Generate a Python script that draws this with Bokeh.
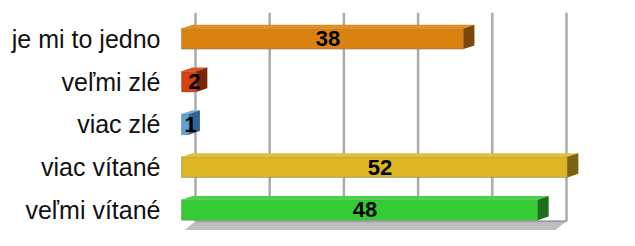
from bokeh.plotting import figure
from bokeh.models import Range1d, FixedTicker, ColumnDataSource
from bokeh.core.properties import value
from bokeh.embed import file_html
from bokeh.resources import INLINE

# ---- data ----
categories = ["je mi to jedno", "veľmi zlé", "viac zlé", "viac vítané", "veľmi vítané"]
counts = [38, 2, 1, 52, 48]
grid_ticks = [0, 10, 20, 30, 40, 50]
front_colors = ["#D9820F", "#D4420F", "#5FA0D6", "#DDB422", "#34CB34"]
top_colors = ["#E08F22", "#DA5222", "#74AEDD", "#E3BE3A", "#48D248"]
side_colors = ["#7A4808", "#7A2508", "#33628F", "#7A6210", "#1C701C"]

# ---- geometry (pixels -> data units) ----
W, H = 619, 230
SY = H / 246.0
LEFT = 168
PX_PER_UNIT = 7.42
PX_PER_ROW = 45.75 * SY
ZERO_PX = 13              # frame x of value 0 (front face)
FIRST_ROW_PX = 41 * SY    # frame y of first row centre
DEPTH_X = 11 / PX_PER_UNIT
DEPTH_Y = 4 * SY / PX_PER_ROW
BACK_X = 14 / PX_PER_UNIT
HALF = 11 * SY / PX_PER_ROW
GRID_TOP = (13 * SY - FIRST_ROW_PX) / PX_PER_ROW
FLOOR = (236 * SY - FIRST_ROW_PX) / PX_PER_ROW
FLOOR_FRONT = (248 * SY - FIRST_ROW_PX) / PX_PER_ROW

frame_w = W - LEFT
x0 = -ZERO_PX / PX_PER_UNIT
p = figure(width=W, height=H, output_backend="svg", toolbar_location=None,
           x_range=Range1d(x0, x0 + frame_w / PX_PER_UNIT),
           y_range=Range1d((H - FIRST_ROW_PX) / PX_PER_ROW, -FIRST_ROW_PX / PX_PER_ROW),
           min_border_left=LEFT, min_border_right=0, min_border_top=0, min_border_bottom=0,
           x_axis_location=None)
p.outline_line_color = None
p.grid.visible = False
p.background_fill_color = "white"
p.border_fill_color = "white"

yax = p.yaxis[0]
yax.ticker = FixedTicker(ticks=list(range(len(categories))))
yax.major_label_overrides = {i: c for i, c in enumerate(categories)}
yax.axis_line_color = None
yax.major_tick_line_color = None
yax.minor_tick_line_color = None
yax.major_tick_out = 0
yax.major_tick_in = 0
yax.major_label_standoff = 8
yax.major_label_text_font = "Liberation Sans"
yax.major_label_text_font_size = "25px"
yax.major_label_text_color = "#111111"

# floor
g0, g1 = BACK_X + grid_ticks[0], BACK_X + grid_ticks[-1]
p.patch([g0, g1, g1 - BACK_X, g0 - BACK_X], [FLOOR, FLOOR, FLOOR_FRONT, FLOOR_FRONT],
        fill_color="#BEBEBE", line_color=None)
p.segment(x0=[g0], y0=[FLOOR], x1=[g1], y1=[FLOOR], line_color="#A0A0A0", line_width=2)

# grid lines on back wall
gx = [t + BACK_X for t in grid_ticks]
p.segment(x0=gx, y0=[GRID_TOP] * len(gx), x1=gx, y1=[FLOOR] * len(gx),
          line_color="#ABABAB", line_width=2.5)

# bars
fxs, fys, txs, tys, sxs, sys_ = [], [], [], [], [], []
for i, v in enumerate(counts):
    top, bot = i - HALF, i + HALF
    fxs.append([0, v, v, 0]); fys.append([top, top, bot, bot])
    txs.append([0, v, v + DEPTH_X, DEPTH_X]); tys.append([top, top, top - DEPTH_Y, top - DEPTH_Y])
    sxs.append([v, v + DEPTH_X, v + DEPTH_X, v]); sys_.append([top, top - DEPTH_Y, bot - DEPTH_Y, bot])

p.patches(fxs, fys, fill_color=front_colors, line_color="#6E6E6E", line_alpha=0.45, line_width=1)
p.patches(txs, tys, fill_color=top_colors, line_color=None)
p.patches(sxs, sys_, fill_color=side_colors, line_color=None)

src = ColumnDataSource(dict(x=[v / 2 + DEPTH_X / 2 for v in counts],
                            y=list(range(len(counts))),
                            t=[str(v) for v in counts]))
p.text(x="x", y="y", text="t", source=src, text_align="center", text_baseline="middle",
       text_font=value("Liberation Sans"), text_font_style="bold", text_font_size="22px",
       text_color="black")

open("out.html", "w").write(file_html(p, INLINE))
